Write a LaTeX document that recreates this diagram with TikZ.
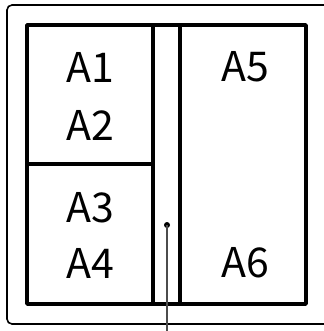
\documentclass[tikz,border=0pt]{standalone}
\usepackage{fontspec}
\setmainfont{Noto Sans CJK SC}
\usetikzlibrary{positioning}

\begin{document}
\begin{tikzpicture}[
    x=1pt, y=-1pt,
    frame/.style={draw, line width=1.6pt, rounded corners=2pt},
    panel/.style={draw, line width=3.6pt, line join=round},
    divider/.style={draw, line width=3.2pt},
    label/.style={font=\fontsize{41}{43}\selectfont, inner sep=0pt},
    lead/.style={draw=black!70, line width=1.3pt}
]
\useasboundingbox (0,0) rectangle (323,331);

% Outer housing, right side runs off the picture.
\draw[frame] (330,5) -- (10,5) -- (7,8) -- (7,321) -- (10,324) -- (330,324);

% Inner panel with its dividers.
\draw[panel] (27,25) rectangle (306,304);
\draw[divider] (153,25) -- (153,304);
\draw[divider] (180,25) -- (180,304);
\draw[divider] (27,164) -- (153,164);

% Compartment labels.
\node[label] (a1) at (90,67) {A1};
\node[label] (a2) at (90,125) {A2};
\node[label] (a3) at (90,208) {A3};
\node[label] (a4) at (90,263) {A4};
\node[label] (a5) at (245,67) {A5};
\node[label] (a6) at (245,263) {A6};

% Lead line from the gap down out of the picture.
\coordinate (tap) at (167,225);
\coordinate (exit) at (167,335);
\fill (tap) circle (3pt);
\draw[lead] (tap) -- (exit);
\end{tikzpicture}
\end{document}
